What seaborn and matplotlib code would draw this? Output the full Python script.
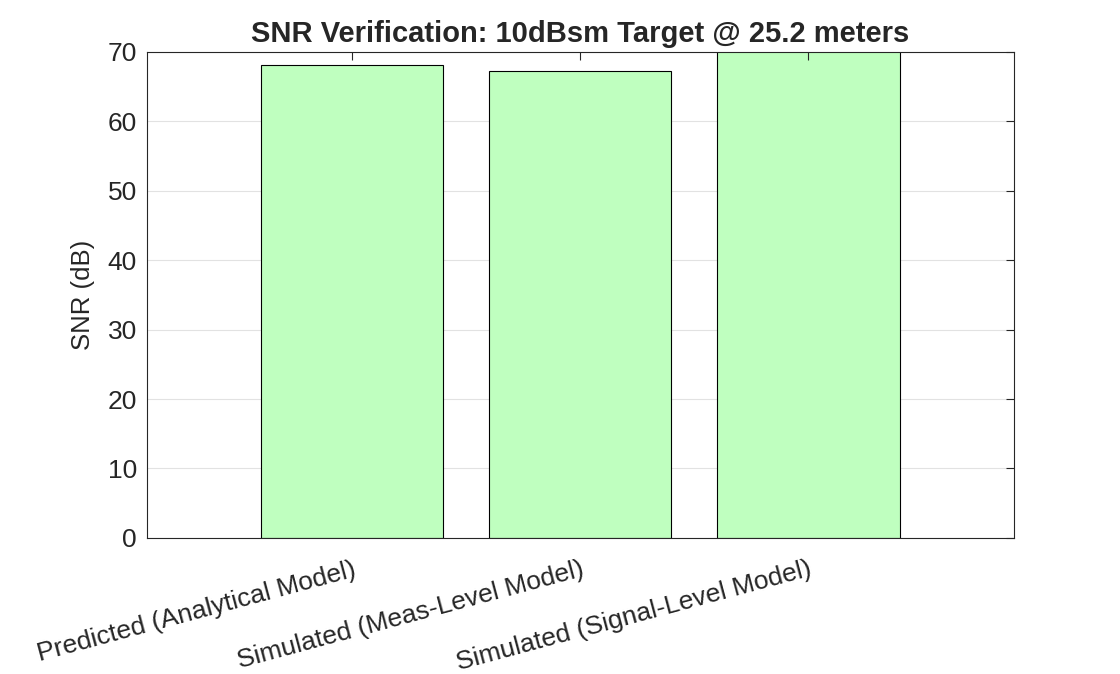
import matplotlib
matplotlib.use('Agg')
import matplotlib.pyplot as plt
import pandas as pd
import seaborn as sns

# Values
models = ['Predicted (Analytical Model)', 'Simulated (Meas-Level Model)', 'Simulated (Signal-Level Model)']
snr_db = [68.1, 67.3, 71.5]

df = pd.DataFrame({'model': models, 'snr': snr_db})

sns.set_theme(style='white')
plt.rcParams['font.family'] = ['Liberation Sans', 'DejaVu Sans']

fig, ax = plt.subplots(figsize=(11.2, 6.74), dpi=100)
fig.subplots_adjust(left=0.131, right=0.905, top=0.923, bottom=0.202)

sns.barplot(data=df, x='model', y='snr', color='#bfffbf', saturation=1,
            edgecolor='black', linewidth=0.8, width=0.8, ax=ax)

ax.set_xlim(-0.9, 2.9)
ax.set_ylim(0, 70)
ax.set_yticks(range(0, 71, 10))
ax.yaxis.grid(True, color='#e2e2e2', linewidth=0.8)
ax.set_axisbelow(True)
# x tick marks sit on top of the bars, like the original
ax.xaxis.set_zorder(2.5)

ax.set_title('SNR Verification: 10dBsm Target @ 25.2 meters', fontsize=21, fontweight='bold', pad=7)
ax.set_xlabel('')
ax.set_ylabel('SNR (dB)', fontsize=18.5, labelpad=9)

ax.tick_params(direction='in', top=True, right=True, length=6, width=0.8,
               color='#262626', labelsize=19, labelcolor='#262626')
ax.tick_params(axis='y', pad=7)
ax.tick_params(axis='x', pad=14)
plt.setp(ax.get_xticklabels(), rotation=15, ha='right', va='top', rotation_mode='anchor')

for s in ax.spines.values():
    s.set_color('#262626')
    s.set_linewidth(0.8)

fig.savefig('out.png', dpi=100, facecolor='white')
